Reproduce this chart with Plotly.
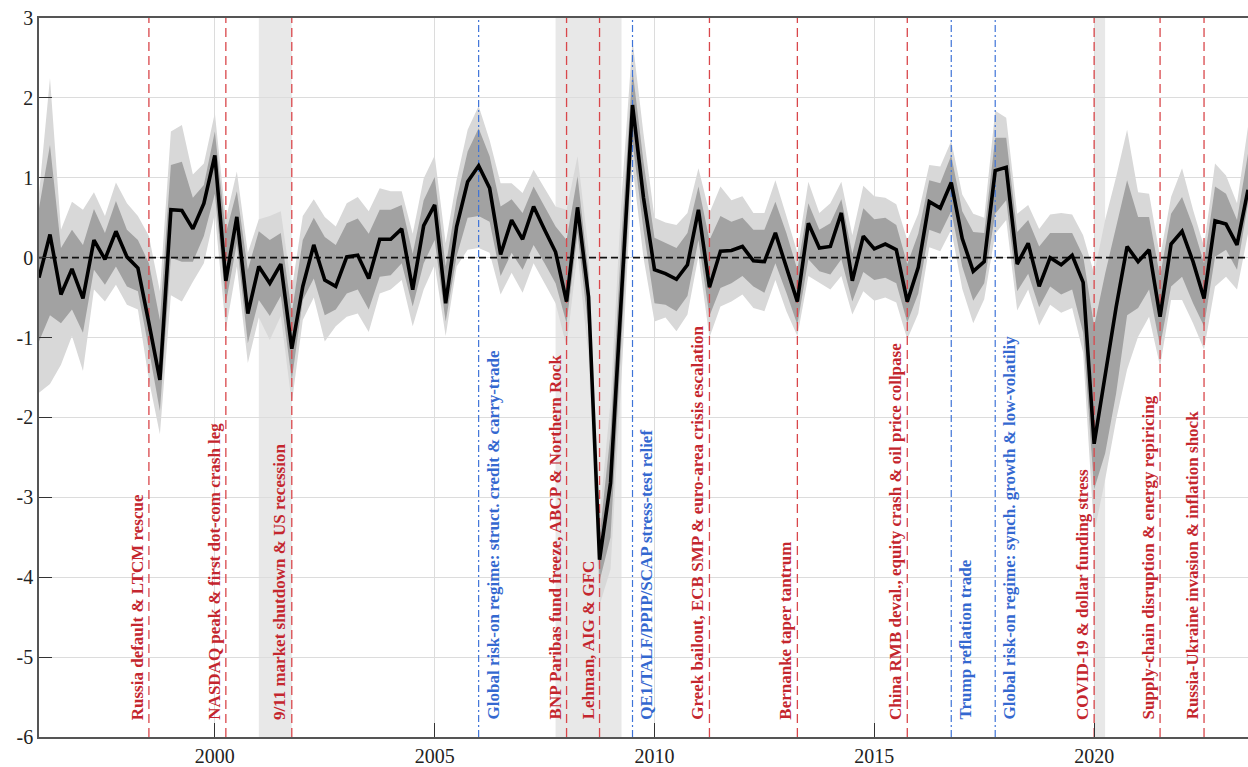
import plotly.graph_objects as go

# Quarterly index: first observation 1996Q1, plotted at fractional years
first_year = 1996.0

index_mean = [
    -0.25, 0.29, -0.46, -0.14, -0.51, 0.22, -0.02, 0.33, 0.01, -0.13,
    -0.82, -1.53, 0.60, 0.59, 0.36, 0.68, 1.28, -0.29, 0.51, -0.70,
    -0.11, -0.32, -0.08, -1.14, -0.36, 0.16, -0.28, -0.36, 0.01, 0.03,
    -0.26, 0.23, 0.23, 0.36, -0.40, 0.40, 0.66, -0.57, 0.39, 0.95,
    1.15, 0.87, 0.04, 0.47, 0.23, 0.64, 0.35, 0.07, -0.55, 0.63,
    -0.49, -3.78, -2.82, -0.38, 1.91, 0.75, -0.15, -0.20, -0.27, -0.09,
    0.60, -0.37, 0.08, 0.09, 0.14, -0.04, -0.05, 0.31, -0.11, -0.55,
    0.43, 0.12, 0.14, 0.56, -0.29, 0.27, 0.11, 0.17, 0.10, -0.55,
    -0.12, 0.70, 0.62, 0.94, 0.24, -0.17, -0.05, 1.09, 1.13, -0.08,
    0.18, -0.36, 0.00, -0.09, 0.03, -0.31, -2.33, -1.45, -0.62, 0.14,
    -0.05, 0.10, -0.74, 0.17, 0.33, -0.05, -0.51, 0.46, 0.42, 0.16,
    0.85,
]

# 90% band (outer, light) and 68% band (inner, dark)
outer_lo = [
    -1.69, -1.58, -1.34, -0.98, -1.42, -0.40, -0.55, -0.34, -0.59, -0.65,
    -1.53, -2.21, -0.47, -0.55, -0.30, -0.07, 0.55, -0.90, -0.11, -1.32,
    -0.75, -1.03, -0.73, -1.82, -0.78, -0.50, -1.05, -0.86, -0.74, -0.70,
    -0.93, -0.45, -0.40, -0.28, -0.86, -0.40, -0.09, -0.98, -0.11, 0.10,
    0.12, 0.06, -0.46, -0.19, -0.44, -0.07, -0.32, -0.57, -1.11, 0.06,
    -1.25, -4.35, -3.90, -1.50, 1.15, 0.00, -0.80, -0.75, -0.92, -0.71,
    0.02, -1.00, -0.61, -0.55, -0.46, -0.63, -0.67, -0.28, -0.67, -0.98,
    -0.23, -0.32, -0.40, -0.23, -0.71, -0.42, -0.54, -0.50, -0.56, -1.02,
    -0.70, 0.13, 0.08, 0.35, -0.39, -0.82, -0.52, 0.30, 0.47, -0.66,
    -0.40, -0.85, -0.59, -0.69, -0.63, -1.19, -3.45, -2.78, -2.03, -1.40,
    -0.99, -0.74, -1.36, -0.53, -0.53, -0.82, -1.15, -0.36, -0.24, -0.40,
    0.30,
]
inner_lo = [
    -1.05, -0.72, -0.82, -0.65, -0.94, -0.15, -0.34, -0.11, -0.36, -0.42,
    -1.15, -1.92, 0.00, -0.05, -0.05, 0.27, 0.80, -0.57, 0.18, -1.07,
    -0.53, -0.73, -0.48, -1.53, -0.53, -0.26, -0.72, -0.65, -0.45, -0.40,
    -0.65, -0.24, -0.22, -0.07, -0.61, -0.07, 0.22, -0.80, 0.02, 0.50,
    0.52, 0.45, -0.23, 0.06, -0.15, 0.16, -0.07, -0.32, -0.82, 0.31,
    -0.90, -4.05, -3.50, -1.00, 1.45, 0.35, -0.57, -0.59, -0.67, -0.48,
    0.22, -0.73, -0.38, -0.32, -0.23, -0.36, -0.44, -0.07, -0.44, -0.84,
    -0.02, -0.17, -0.21, -0.02, -0.55, -0.18, -0.28, -0.25, -0.32, -0.81,
    -0.45, 0.35, 0.30, 0.58, -0.11, -0.54, -0.32, 0.55, 0.72, -0.42,
    -0.20, -0.62, -0.36, -0.46, -0.40, -0.94, -2.90, -2.45, -1.70, -0.72,
    -0.63, -0.40, -1.11, -0.36, -0.24, -0.57, -0.86, 0.01, 0.10, -0.15,
    0.68,
]
inner_hi = [
    0.62, 1.41, 0.12, 0.35, 0.16, 0.61, 0.31, 0.71, 0.35, 0.22,
    -0.07, -0.78, 1.16, 1.20, 0.75, 0.91, 1.58, 0.31, 0.83, -0.15,
    0.33, 0.22, 0.31, -0.69, 0.22, 0.50, 0.26, 0.16, 0.43, 0.49,
    0.30, 0.60, 0.60, 0.66, 0.05, 0.72, 1.01, -0.11, 0.73, 1.33,
    1.62, 1.27, 0.64, 0.73, 0.56, 0.89, 0.64, 0.39, 0.22, 1.02,
    -0.20, -3.50, -2.20, 0.25, 2.35, 1.20, 0.25, 0.18, 0.12, 0.31,
    0.89, 0.22, 0.52, 0.45, 0.50, 0.35, 0.35, 0.70, 0.31, -0.15,
    0.68, 0.35, 0.43, 0.73, 0.05, 0.62, 0.48, 0.50, 0.41, -0.08,
    0.30, 0.97, 0.93, 1.28, 0.58, 0.32, 0.31, 1.50, 1.50, 0.32,
    0.47, 0.14, 0.31, 0.31, 0.31, 0.02, -0.86, -0.20, 0.40, 0.97,
    0.51, 0.51, -0.24, 0.55, 0.76, 0.39, -0.07, 0.89, 0.80, 0.47,
    1.30,
]
outer_hi = [
    0.80, 2.25, 0.35, 0.70, 0.60, 0.82, 0.52, 0.94, 0.68, 0.52,
    0.27, -0.42, 1.58, 1.66, 1.04, 1.18, 1.81, 0.48, 1.08, 0.06,
    0.48, 0.52, 0.58, -0.40, 0.52, 0.73, 0.51, 0.39, 0.68, 0.76,
    0.58, 0.87, 0.83, 0.83, 0.30, 0.99, 1.28, 0.18, 0.98, 1.60,
    1.90, 1.47, 0.93, 0.93, 0.81, 1.10, 0.87, 0.64, 0.60, 1.27,
    0.10, -3.25, -1.80, 0.75, 2.72, 1.55, 0.50, 0.44, 0.41, 0.56,
    1.12, 0.56, 0.89, 0.72, 0.77, 0.56, 0.56, 0.97, 0.52, 0.06,
    0.95, 0.56, 0.68, 0.95, 0.28, 0.90, 0.77, 0.75, 0.67, 0.22,
    0.55, 1.16, 1.14, 1.46, 0.79, 0.55, 0.50, 1.84, 1.75, 0.55,
    0.66, 0.36, 0.54, 0.56, 0.54, 0.28, -0.20, 0.47, 1.01, 1.60,
    0.82, 0.80, 0.01, 0.76, 1.12, 0.60, 0.14, 1.18, 1.03, 0.68,
    1.64,
]

quarters = [first_year + 0.25 * k for k in range(len(index_mean))]

# NBER-style recession windows (start, end)
recessions = [(2001.0, 2001.75), (2007.75, 2009.25), (2020.0, 2020.25)]

# Event markers: date, label, type ("stress" or "relief")
event_dates = [1998.5, 2000.25, 2001.75, 2006.0, 2008.0, 2008.75, 2009.5,
               2011.25, 2013.25, 2015.75, 2016.75, 2017.75, 2020.0, 2021.5,
               2022.5]
event_labels = [
    "Russia default & LTCM rescue",
    "NASDAQ peak & first dot-com crash leg",
    "9/11 market shutdown & US recession",
    "Global risk-on regime: struct. credit & carry-trade",
    "BNP Paribas fund freeze, ABCP & Northern Rock",
    "Lehman, AIG & GFC",
    "QE1/TALF/PPIP/SCAP stress-test relief",
    "Greek bailout, ECB SMP & euro-area crisis escalation",
    "Bernanke taper tantrum",
    "China RMB deval., equity crash & oil price collpase",
    "Trump reflation trade",
    "Global risk-on regime: synch. growth & low-volatiliy",
    "COVID-19 & dollar funding stress",
    "Supply-chain disruption & energy repiricing",
    "Russia-Ukraine invasion & inflation shock",
]
event_kinds = ["stress", "stress", "stress", "relief", "stress", "stress",
               "relief", "stress", "stress", "stress", "relief", "relief",
               "stress", "stress", "stress"]

x_ticks = [2000, 2005, 2010, 2015, 2020]
y_ticks = [-6, -5, -4, -3, -2, -1, 0, 1, 2, 3]
y_ticktext = ["-6", "-5", "-4", "-3", "-2", "-1", "0", "1", "2", "3"]

X_MIN, X_MAX = 1996.0, 2023.5
Y_MIN, Y_MAX = -6, 3

LINE_STYLE = {
    "stress": dict(color="#d9474b", dash="9px,5px", width=1.3),
    "relief": dict(color="#3f74d8", dash="7px,3px,2px,3px", width=1.2),
}
TEXT_COLOR = {"stress": "#c4262e", "relief": "#3468d0"}
# stress labels sit left of their line, relief labels right of it
TEXT_SIDE = {"stress": ("right", 0), "relief": ("left", 3)}

fig = go.Figure()

# outer band
fig.add_trace(go.Scatter(x=quarters, y=outer_lo, mode="lines",
                         line=dict(width=0), hoverinfo="skip"))
fig.add_trace(go.Scatter(x=quarters, y=outer_hi, mode="lines", fill="tonexty",
                         fillcolor="#d8d8d8", line=dict(width=0), hoverinfo="skip"))
# inner band
fig.add_trace(go.Scatter(x=quarters, y=inner_lo, mode="lines",
                         line=dict(width=0), hoverinfo="skip"))
fig.add_trace(go.Scatter(x=quarters, y=inner_hi, mode="lines", fill="tonexty",
                         fillcolor="#a2a2a2", line=dict(width=0), hoverinfo="skip"))

# event lines
for d, kind in zip(event_dates, event_kinds):
    fig.add_trace(go.Scatter(x=[d, d], y=[Y_MIN, Y_MAX], mode="lines",
                             line=LINE_STYLE[kind], hoverinfo="skip"))

# zero reference
fig.add_trace(go.Scatter(x=[X_MIN, X_MAX], y=[0, 0], mode="lines",
                         line=dict(color="#111111", width=1.6, dash="7px,4px"),
                         hoverinfo="skip"))

# index
fig.add_trace(go.Scatter(x=quarters, y=index_mean, mode="lines",
                         line=dict(color="black", width=3.6), hoverinfo="skip"))

shapes = []
for a, b in recessions:
    shapes.append(dict(type="rect", xref="x", yref="y", x0=a, x1=b,
                       y0=Y_MIN, y1=Y_MAX, fillcolor="#e8e8e8",
                       line=dict(width=0), layer="below"))

annotations = []
for d, lab, kind in zip(event_dates, event_labels, event_kinds):
    anchor, shift = TEXT_SIDE[kind]
    annotations.append(dict(
        x=d, y=-5.81, xref="x", yref="y", text="<b>" + lab + "</b>",
        textangle=-90, xanchor=anchor, yanchor="bottom", showarrow=False,
        xshift=shift, font=dict(family="Liberation Serif", size=17,
                                color=TEXT_COLOR[kind])))

fig.update_layout(
    width=1248, height=767,
    margin=dict(l=39, r=0, t=18, b=30),
    plot_bgcolor="white", paper_bgcolor="white",
    showlegend=False, shapes=shapes, annotations=annotations,
)
fig.update_xaxes(
    range=[X_MIN, X_MAX], tickmode="array", tickvals=x_ticks,
    ticks="inside", ticklen=14, tickwidth=1.3, tickcolor="#333333",
    showline=True, linecolor="#555555", linewidth=1.5, mirror=True,
    showgrid=True, gridcolor="#dcdcdc", gridwidth=1.3, zeroline=False,
    tickfont=dict(family="Liberation Serif", size=20, color="#222222"),
)
fig.update_yaxes(
    range=[Y_MIN, Y_MAX], tickmode="array", tickvals=y_ticks,
    ticktext=y_ticktext,
    ticks="inside", ticklen=13, tickwidth=1.3, tickcolor="#333333",
    showline=True, linecolor="#555555", linewidth=1.5,
    showgrid=True, gridcolor="#dcdcdc", gridwidth=1.3, zeroline=False,
    tickfont=dict(family="Liberation Serif", size=20, color="#222222"),
)

fig.write_html("out.html")
